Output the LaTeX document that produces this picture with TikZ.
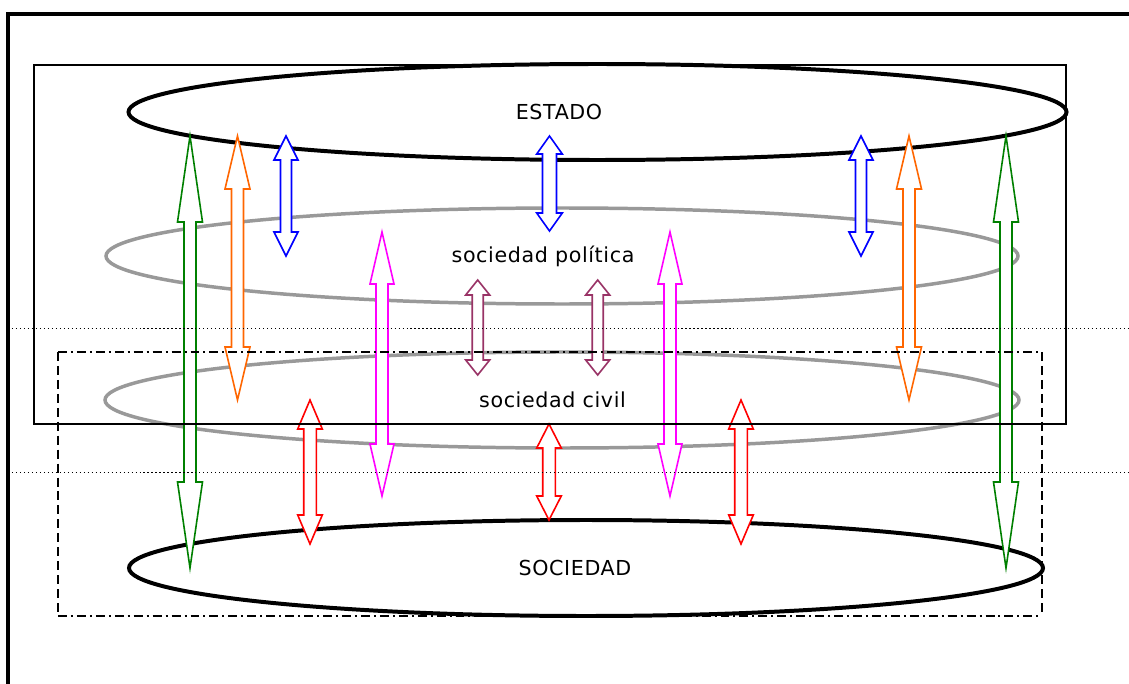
\documentclass[tikz,border=0pt]{standalone}
\usepackage{fontspec}
\newfontfamily\lbl[LetterSpace=3]{DejaVu Sans}
\definecolor{cgreen}{HTML}{008000}
\definecolor{corange}{HTML}{FF6600}
\definecolor{cblue}{HTML}{0000FF}
\definecolor{cpurple}{HTML}{993366}
\definecolor{cmag}{HTML}{FF00FF}
\definecolor{cred}{HTML}{FF0000}
\definecolor{cgray}{HTML}{999999}
\newcommand\dblarrow[7]{%
  \filldraw[arr, draw=#1] (#2,#3) -- (#2+#6,#3+#5) -- (#2+#7,#3+#5) -- (#2+#7,#4-#5) -- (#2+#6,#4-#5) -- (#2,#4)
    -- (#2-#6,#4-#5) -- (#2-#7,#4-#5) -- (#2-#7,#3+#5) -- (#2-#6,#3+#5) -- cycle;}
\tikzset{
  arr/.style={fill=white, line width=1.6, line join=miter},
  bigell/.style={draw=black, line width=4},
  grayell/.style={draw=cgray, line width=3.5},
  lab/.style={font=\lbl\fontsize{20.7}{23}\selectfont, inner sep=0},
  dotline/.style={line width=1, dash pattern=on 1.2 off 2.8},
}
\begin{document}
\begin{tikzpicture}[x=1bp, y=-1bp]
\useasboundingbox (0,0) rectangle (1129,684);
\clip (0,0) rectangle (1129,684);
\fill[white] (0,0) rectangle (1129,684);
% outer frame
\draw[line width=4] (8,700) -- (8,14) -- (1140,14);
% ellipses
\draw[bigell] (597.5,112) ellipse [x radius=469, y radius=48];
\draw[grayell] (562,256) ellipse [x radius=456, y radius=48];
\draw[grayell] (562,400) ellipse [x radius=457, y radius=48];
\draw[bigell] (586,568) ellipse [x radius=457, y radius=48];
% arrows
\dblarrow{cgreen}{190}{136}{568}{86}{12.5}{6}
\dblarrow{cgreen}{1006}{136}{568}{86}{12.5}{6}
\dblarrow{corange}{237.5}{136}{400}{53}{12.5}{6}
\dblarrow{corange}{909}{136}{400}{53}{12.5}{6}
\dblarrow{cblue}{286}{136}{256}{24}{12}{5.5}
\dblarrow{cblue}{861}{136}{256}{24}{12}{5.5}
\dblarrow{cblue}{549.5}{136}{231}{18}{12.8}{7}
\dblarrow{cpurple}{477.7}{280}{375}{15}{12}{5.5}
\dblarrow{cpurple}{597.7}{280}{375}{15}{12}{5.5}
\dblarrow{cmag}{382}{232}{496}{52}{12}{6}
\dblarrow{cmag}{670}{232}{496}{52}{12}{6}
\dblarrow{cred}{310}{400}{544}{29}{12.3}{6.3}
\dblarrow{cred}{741}{400}{544}{29}{12.3}{6.3}
\dblarrow{cred}{549}{424}{520}{24}{12.3}{6.3}
% rectangles
\draw[line width=1.5] (34,65) rectangle (1066,424);
\draw[line width=1.5, dash pattern=on 9 off 4 on 2 off 4] (58,352) -- (1042,352);
\draw[line width=1.5, dash pattern=on 9 off 4 on 2 off 4] (58,616) -- (1042,616);
\draw[line width=1.5, dash pattern=on 9 off 5] (58,352) -- (58,616);
\draw[line width=1.5, dash pattern=on 9 off 5] (1042,352) -- (1042,616);
% dotted lines
\draw[dotline] (8,328) -- (1129,328);
\draw[dotline] (8,472) -- (1129,472);
% labels
\node[lab] (tEstado) at (559,112) {ESTADO};
\node[lab] (tPol) at (543,256) {sociedad política};
\node[lab] (tCiv) at (552.5,400) {sociedad civil};
\node[lab] (tSoc) at (575,568) {SOCIEDAD};
\end{tikzpicture}
\end{document}
